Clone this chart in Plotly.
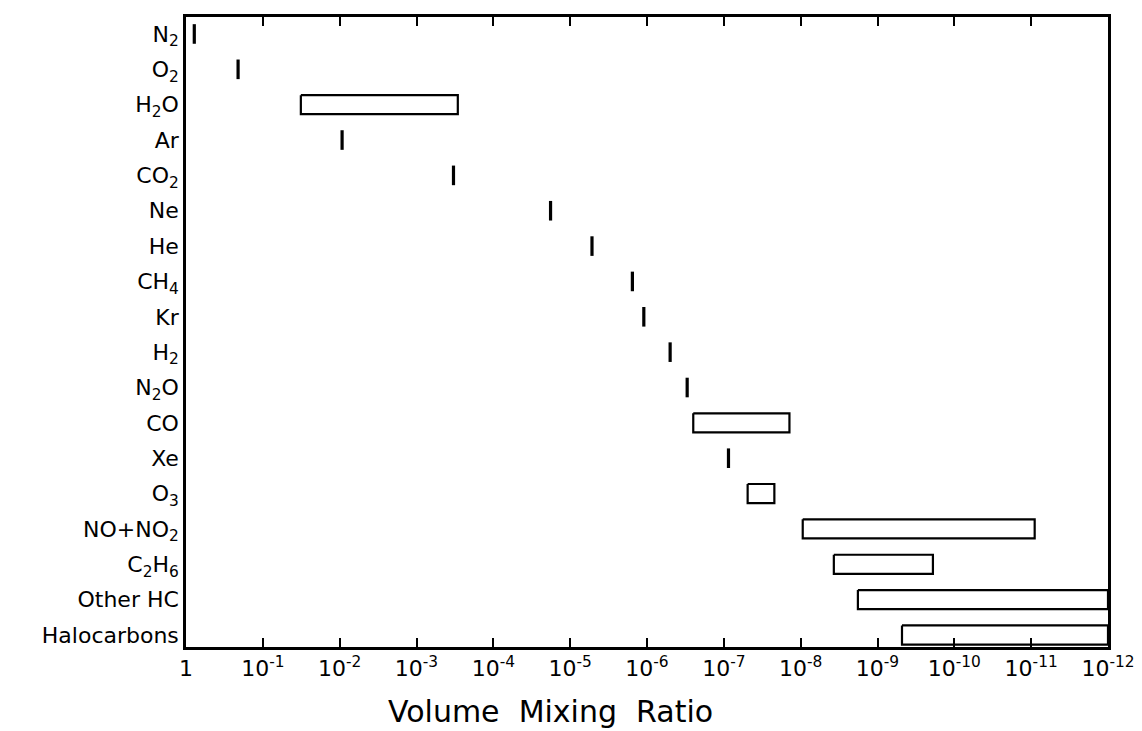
import plotly.graph_objects as go

# Categories (top to bottom)
species = ["N<sub>2</sub>", "O<sub>2</sub>", "H<sub>2</sub>O", "Ar", "CO<sub>2</sub>", "Ne", "He",
           "CH<sub>4</sub>", "Kr", "H<sub>2</sub>", "N<sub>2</sub>O", "CO", "Xe", "O<sub>3</sub>",
           "NO+NO<sub>2</sub>", "C<sub>2</sub>H<sub>6</sub>", "Other HC", "Halocarbons"]

# Species with a single (well-mixed) value
point_species = ["N<sub>2</sub>", "O<sub>2</sub>", "Ar", "CO<sub>2</sub>", "Ne", "He",
                 "CH<sub>4</sub>", "Kr", "H<sub>2</sub>", "N<sub>2</sub>O", "Xe"]
point_values = [0.78, 0.21, 9.3e-3, 3.3e-4, 1.8e-5, 5.2e-6, 1.55e-6, 1.1e-6, 5e-7, 3e-7, 8.7e-8]

# Species with a range of values
range_species = ["H<sub>2</sub>O", "CO", "O<sub>3</sub>", "NO+NO<sub>2</sub>",
                 "C<sub>2</sub>H<sub>6</sub>", "Other HC", "Halocarbons"]
range_high = [3.2e-2, 2.5e-7, 4.9e-8, 9.4e-9, 3.7e-9, 1.8e-9, 4.8e-10]
range_low = [2.9e-4, 1.4e-8, 2.2e-8, 9e-12, 1.9e-10, 1e-12, 1e-12]

tick_vals = [10.0 ** (-k) for k in range(0, 13)]
tick_text = ["1"] + ["10<sup>-%d</sup>" % k for k in range(1, 13)]

idx = {s: i for i, s in enumerate(species)}
half = 0.27

fig = go.Figure()

for s, hi, lo in zip(range_species, range_high, range_low):
    i = idx[s]
    fig.add_trace(go.Scatter(
        x=[hi, lo, lo, hi, hi],
        y=[i - half, i - half, i + half, i + half, i - half],
        mode="lines", fill="toself", fillcolor="white",
        line=dict(color="black", width=2.2),
        showlegend=False, hoverinfo="skip"))

fig.add_trace(go.Scatter(
    x=point_values, y=[idx[s] for s in point_species],
    mode="markers",
    marker=dict(symbol="line-ns", size=14, line=dict(color="black", width=3.2)),
    showlegend=False))

fig.update_layout(
    width=1142, height=731,
    margin=dict(l=186, r=34, t=17, b=84, autoexpand=False),
    paper_bgcolor="white", plot_bgcolor="white",
    font=dict(family="DejaVu Sans", color="black"),
    xaxis=dict(type="log", range=[0, -12], tickmode="array",
               tickvals=tick_vals, ticktext=tick_text, automargin=False,
               ticks="inside", ticklen=9, tickwidth=2, tickcolor="black",
               showline=True, linewidth=2.5, linecolor="black", mirror="ticks",
               showgrid=False, zeroline=False,
               tickfont=dict(size=22, family="DejaVu Sans")),
    yaxis=dict(range=[17.34, -0.48], tickmode="array", automargin=False,
               tickvals=list(range(len(species))), ticktext=species,
               ticks="", showline=True, linewidth=2.5, linecolor="black", mirror=True,
               showgrid=False, zeroline=False,
               tickfont=dict(size=22, family="DejaVu Sans")),
    annotations=[dict(text="Volume  Mixing  Ratio", xref="paper", yref="paper",
                      x=0.395, y=-0.103, xanchor="center", yanchor="middle",
                      showarrow=False, font=dict(size=30, family="DejaVu Sans"))],
)

fig.write_html("out.html")
